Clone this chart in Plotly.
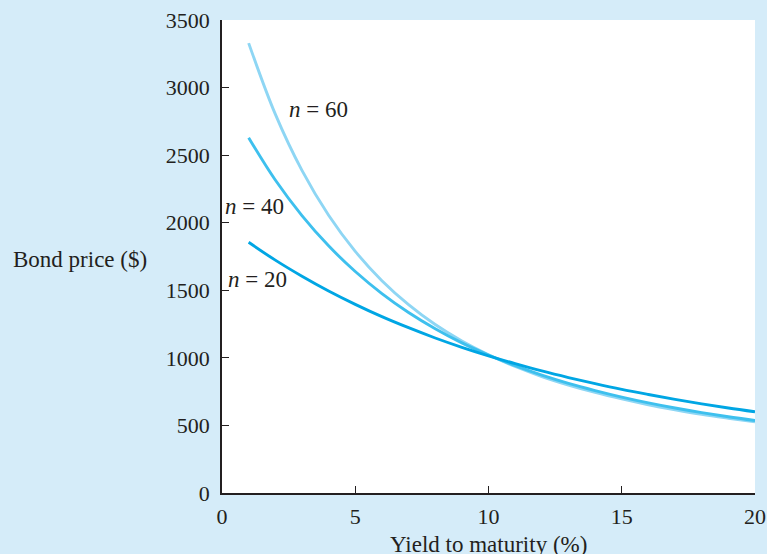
import plotly.graph_objects as go

yields = [1, 2, 3, 4, 5, 6, 7, 8, 9, 10, 11, 12, 13, 14, 15, 16, 17, 18, 19, 20]
price_n20 = [1855, 1723, 1604, 1495, 1396, 1305, 1223, 1147, 1078, 1015,
             957, 903, 854, 809, 767, 729, 693, 660, 629, 601]
price_n40 = [2629, 2316, 2053, 1829, 1639, 1476, 1336, 1216, 1111, 1021,
             942, 872, 811, 758, 710, 667, 629, 595, 564, 536]
price_n60 = [3329, 2803, 2387, 2055, 1788, 1571, 1394, 1247, 1125, 1023,
             936, 862, 799, 744, 696, 653, 616, 582, 553, 526]

x_ticks = [0, 5, 10, 15, 20]
y_ticks = [0, 500, 1000, 1500, 2000, 2500, 3000, 3500]

labels = ["<i>n</i> = 60", "<i>n</i> = 40", "<i>n</i> = 20"]
label_x = [3.63, 1.22, 1.33]
label_y = [2840, 2120, 1580]

FONT = "Liberation Serif, DejaVu Serif, serif"
INK = "#231f20"
BG = "#d5ecf9"

fig = go.Figure()
series = [(price_n60, "#8ed6f4"), (price_n40, "#3ec0ee"), (price_n20, "#00a6e4")]
for vals, col in series:
    fig.add_trace(go.Scatter(x=yields, y=vals, mode="lines",
                             line=dict(color=col, width=2.9, shape="spline", smoothing=1.0),
                             showlegend=False, hoverinfo="skip"))

for t, lx, ly in zip(labels, label_x, label_y):
    fig.add_annotation(x=lx, y=ly, xref="x", yref="y", text=t, showarrow=False,
                       font=dict(family=FONT, size=23, color=INK))

fig.add_annotation(x=10, y=0, xref="x", yref="paper", yanchor="top", yshift=-37,
                   text="Yield to maturity (%)", showarrow=False,
                   font=dict(family=FONT, size=23, color=INK))
fig.add_annotation(x=0, y=0.5, xref="paper", yref="paper", xanchor="right",
                   xshift=-73, yshift=-3, text="Bond price ($)", showarrow=False,
                   font=dict(family=FONT, size=23, color=INK))

fig.update_layout(
    width=767, height=554,
    margin=dict(l=222, r=12, t=20, b=61, autoexpand=False),
    paper_bgcolor=BG, plot_bgcolor="white",
    font=dict(family=FONT, size=22, color=INK),
    xaxis=dict(range=[0, 20], tickvals=x_ticks, ticks="inside", ticklen=7, tickwidth=1.3,
               tickcolor=INK, showline=True, linecolor=INK, linewidth=1.5, automargin=False,
               showgrid=False, zeroline=False, tickfont=dict(size=22), ticklabelstandoff=3),
    yaxis=dict(range=[0, 3500], tickvals=y_ticks, ticks="inside", ticklen=7, tickwidth=1.3,
               tickcolor=INK, showline=True, linecolor=INK, linewidth=1.5, automargin=False,
               showgrid=False, zeroline=False, tickfont=dict(size=22), ticklabelstandoff=6),
)

fig.write_html("out.html", config={"displayModeBar": False},
               post_script="document.body.style.margin='0';document.body.style.padding='0';")
